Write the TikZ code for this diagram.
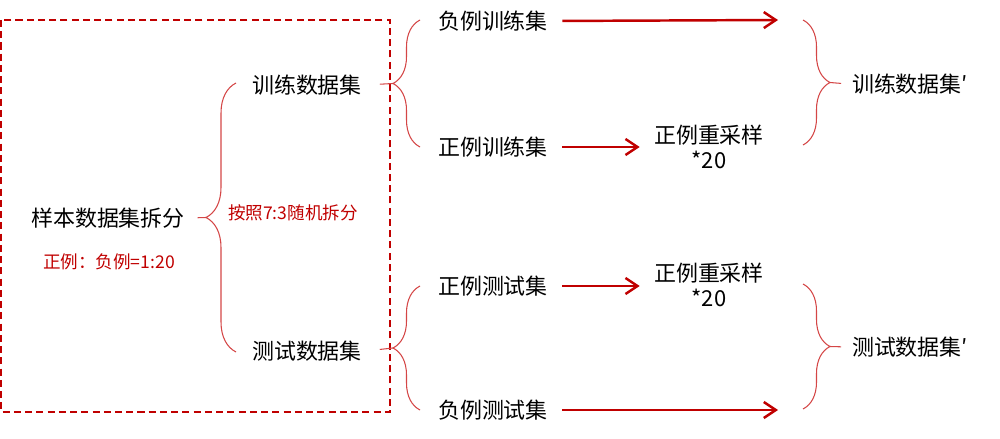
\documentclass[tikz,border=0pt]{standalone}
\usepackage{fontspec}
\setmainfont{Noto Sans CJK SC}
\usetikzlibrary{arrows.meta,calc,positioning,decorations.pathreplacing}
\definecolor{SplitRed}{RGB}{192,0,0}
\definecolor{BraceRed}{RGB}{212,70,70}

\begin{document}
\begin{tikzpicture}[x=0.02cm,y=-0.02cm,
  txt/.style={font=\fontsize{12.5}{14.5}\selectfont,inner sep=2pt,align=center},
  note/.style={font=\fontsize{10}{12}\selectfont,text=SplitRed,inner sep=2pt},
  flow/.style={-{Straight Barb[length=2.4mm,width=3.2mm,line width=1.4pt]},line width=1.4pt,SplitRed},
  curly/.style={BraceRed,line width=0.6pt,decorate,decoration={brace,amplitude=#1}},
  stub/.style={BraceRed,line width=0.6pt}]
  \useasboundingbox (0,0) rectangle (1000,439);
  \draw[SplitRed,line width=0.8pt,dash pattern=on 4pt off 2.4pt] (1,20) rectangle (390,412);

  % sample split
  \node[txt] (split) at (108,218) {样本数据集拆分};
  \node[note] (ratio) at (109,262) {正例：负例=1:20};
  \node[note] (rule) at (293,213) {按照7:3随机拆分};
  \node[txt] (train) at (307,85) {训练数据集};
  \node[txt] (test) at (307,351) {测试数据集};

  % second level
  \node[txt] (negtrain) at (493,21) {负例训练集};
  \node[txt] (postrain) at (493,147) {正例训练集};
  \node[txt] (postest) at (493,286) {正例测试集};
  \node[txt] (negtest) at (493,410) {负例测试集};
  \node[txt] (resampleA) at (709,147) {正例重采样\\*20};
  \node[txt] (resampleB) at (709,285) {正例重采样\\*20};
  \node[txt] (trainp) at (910,84) {训练数据集′};
  \node[txt] (testp) at (910,347) {测试数据集′};
  \coordinate (endA) at (778,20);
  \coordinate (endB) at (778,410);

  % braces
  \draw[curly=0.6cm] (236,352) -- (236,83);
  \coordinate (tipA) at (206,217.5);
  \draw[stub,shorten <=5pt] (split.east) -- (tipA);
  \draw[curly=0.54cm] (420,147) -- (420,20);
  \coordinate (tipB) at (393,83.5);
  \draw[stub,shorten <=8pt] (train.east) -- (tipB);
  \draw[curly=0.54cm] (420,410) -- (420,286);
  \coordinate (tipC) at (393,348);
  \draw[stub,shorten <=8pt] (test.east) -- (tipC);
  \draw[curly=0.54cm] (803,20) -- (803,145);
  \coordinate (tipD) at (830,82.5);
  \draw[stub,shorten >=4pt] (tipD) -- (trainp.west);
  \draw[curly=0.54cm] (803,284) -- (803,409);
  \coordinate (tipE) at (830,346.5);
  \draw[stub,shorten >=4pt] (tipE) -- (testp.west);

  % arrows
  \draw[flow,shorten <=6pt] (negtrain.east) -- (endA);
  \draw[flow,shorten <=6pt,shorten >=6pt] (postrain.east) -- (postrain.east -| resampleA.west);
  \draw[flow,shorten <=6pt,shorten >=6pt] (postest.east) -- (postest.east -| resampleB.west);
  \draw[flow,shorten <=6pt] (negtest.east) -- (endB);
\end{tikzpicture}
\end{document}
